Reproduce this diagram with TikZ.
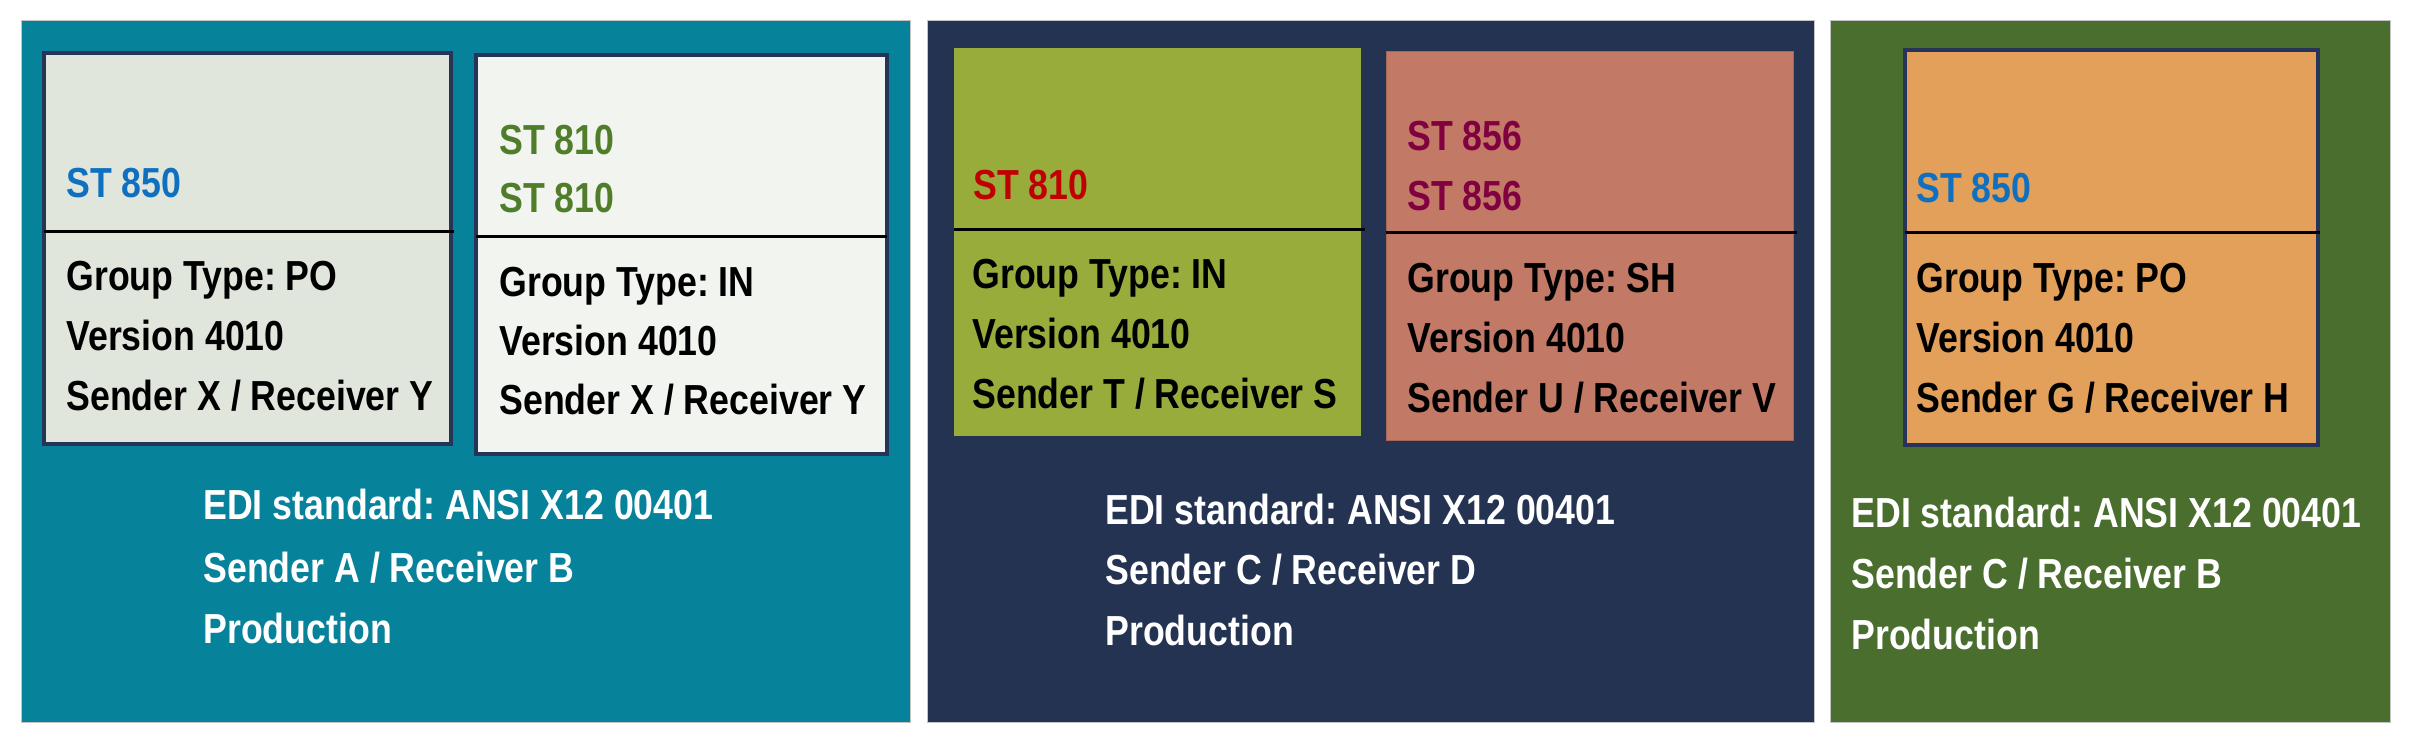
\documentclass[tikz,border=0pt]{standalone}
\usepackage{fontspec}
\setmainfont{Liberation Sans}
\newfontfamily\cfont{Liberation Sans}[FakeStretch=0.85]
\frenchspacing
\definecolor{teal1}{HTML}{06829A}
\definecolor{navy1}{HTML}{243352}
\definecolor{green1}{HTML}{4A6E2E}
\definecolor{boxA}{HTML}{E1E6DD}
\definecolor{boxB}{HTML}{F2F4EF}
\definecolor{boxC}{HTML}{98AC3C}
\definecolor{boxD}{HTML}{C27A67}
\definecolor{boxE}{HTML}{E2A05A}
\definecolor{outl}{HTML}{263557}
\definecolor{stblue}{HTML}{1070C0}
\definecolor{stgreen}{HTML}{507D2A}
\definecolor{stred}{HTML}{C00000}
\definecolor{stmaroon}{HTML}{800040}
\definecolor{pborder}{HTML}{C4C4C4}
\begin{document}
\begin{tikzpicture}[x=0.5pt,y=-0.5pt,
  panel/.style={draw=pborder,line width=0.5pt},
  card/.style={draw=outl,line width=2pt},
  divline/.style={draw=black,line width=1.5pt},
  txt/.style={anchor=base west,inner sep=0pt,font=\cfont\bfseries\fontsize{21}{30}\selectfont\frenchspacing},
  wtxt/.style={txt,text=white}]
\useasboundingbox (0,0) rectangle (2410,742);
\fill[white] (0,0) rectangle (2410,742);
% panels
\path[panel,fill=teal1] (21,21) rectangle (910,722);
\path[panel,fill=navy1] (927,21) rectangle (1814,722);
\path[panel,fill=green1] (1830,21) rectangle (2390,722);
% box 1
\path[card,fill=boxA] (44,53) rectangle (451,444);
\draw[divline] (44,232) -- (454,232);
\node[txt,text=stblue] (b1s) at (66,198) {ST 850};
\node[txt] (b1a) at (66,291) {Group Type: PO};
\node[txt] (b1b) at (66,351) {Version 4010};
\node[txt] (b1c) at (66,411) {Sender X / Receiver Y};
% box 2
\path[card,fill=boxB] (476,55) rectangle (887,454);
\draw[divline] (476,237) -- (887,237);
\node[txt,text=stgreen] (b2s1) at (499,155) {ST 810};
\node[txt,text=stgreen] (b2s2) at (499,213) {ST 810};
\node[txt] (b2a) at (499,297) {Group Type: IN};
\node[txt] (b2b) at (499,356) {Version 4010};
\node[txt] (b2c) at (499,415) {Sender X / Receiver Y};
% box 3
\fill[boxC] (954,48) rectangle (1361,436);
\draw[divline] (954,230) -- (1365,230);
\node[txt,text=stred] (b3s) at (973,200) {ST 810};
\node[txt] (b3a) at (972,289) {Group Type: IN};
\node[txt] (b3b) at (972,349) {Version 4010};
\node[txt] (b3c) at (972,409) {Sender T / Receiver S};
% box 4
\path[draw=boxD!85!black,line width=0.5pt,fill=boxD] (1386,52) rectangle (1793,441);
\draw[divline] (1386,233) -- (1797,233);
\node[txt,text=stmaroon] (b4s1) at (1407,151) {ST 856};
\node[txt,text=stmaroon] (b4s2) at (1407,211) {ST 856};
\node[txt] (b4a) at (1407,293) {Group Type: SH};
\node[txt] (b4b) at (1407,353) {Version 4010};
\node[txt] (b4c) at (1407,413) {Sender U / Receiver V};
% box 5
\path[card,fill=boxE] (1905,50) rectangle (2318,445);
\draw[divline] (1905,233) -- (2320,233);
\node[txt,text=stblue] (b5s) at (1916,203) {ST 850};
\node[txt] (b5a) at (1916,293) {Group Type: PO};
\node[txt] (b5b) at (1916,353) {Version 4010};
\node[txt] (b5c) at (1916,413) {Sender G / Receiver H};
% bottom texts
\node[wtxt] (p1a) at (203,520) {EDI standard: ANSI X12 00401};
\node[wtxt] (p1b) at (203,583) {Sender A / Receiver B};
\node[wtxt] (p1c) at (203,644) {Production};
\node[wtxt] (p2a) at (1105,525) {EDI standard: ANSI X12 00401};
\node[wtxt] (p2b) at (1105,585) {Sender C / Receiver D};
\node[wtxt] (p2c) at (1105,646) {Production};
\node[wtxt] (p3a) at (1851,528) {EDI standard: ANSI X12 00401};
\node[wtxt] (p3b) at (1851,589) {Sender C / Receiver B};
\node[wtxt] (p3c) at (1851,650) {Production};
\end{tikzpicture}
\end{document}
